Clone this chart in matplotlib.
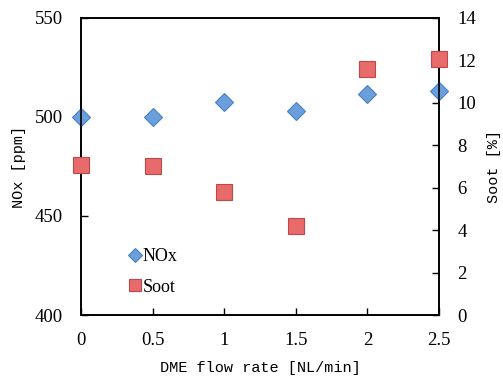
import matplotlib
matplotlib.use('Agg')
import matplotlib.pyplot as plt

flow_rate = [0, 0.5, 1, 1.5, 2, 2.5]
nox = [500, 500, 507.7, 502.9, 511.8, 513.1]
soot = [7.07, 7.0, 5.79, 4.2, 11.59, 12.07]

serif = ['Liberation Serif', 'DejaVu Serif']
label_font = ['Liberation Mono', 'DejaVu Sans Mono']

fig = plt.figure(figsize=(5.03, 3.8), dpi=100)
ax = fig.add_axes([0.161, 0.171, 0.712, 0.782])
ax2 = ax.twinx()

h1, = ax.plot(flow_rate, nox, linestyle='none', marker='D', markersize=9,
              markerfacecolor='#6a9fdc', markeredgecolor='#4a7fc0', markeredgewidth=0.8,
              clip_on=False, zorder=3, label='NOx')
h2, = ax2.plot(flow_rate, soot, linestyle='none', marker='s', markersize=12,
               markerfacecolor='#e86a6a', markeredgecolor='#c04848', markeredgewidth=0.8,
               clip_on=False, zorder=3, label='Soot')

ax.set_xlim(0, 2.5)
ax.set_ylim(400, 550)
ax2.set_ylim(0, 14)
ax.set_xticks([0, 0.5, 1, 1.5, 2, 2.5])
ax.set_xticklabels(['0', '0.5', '1', '1.5', '2', '2.5'])
ax.set_yticks([400, 450, 500, 550])
ax2.set_yticks(range(0, 15, 2))

for a in (ax, ax2):
    a.tick_params(direction='in', length=5, width=1, labelsize=13.5, pad=13)
    a.tick_params(axis='x', pad=12)
    for lab in a.get_xticklabels() + a.get_yticklabels():
        lab.set_family(serif)
    for s in a.spines.values():
        s.set_linewidth(1.2)

ax.set_xlabel('DME flow rate [NL/min]', family=label_font, fontsize=11, labelpad=9)
ax.set_ylabel('NOx [ppm]', family=label_font, fontsize=11, labelpad=6)
ax2.set_ylabel('Soot [%]', family=label_font, fontsize=11, labelpad=8)

leg = ax.legend(handles=[h1, h2], loc='lower left', bbox_to_anchor=(0.09, 0.01),
                frameon=False, handlelength=0.6, handletextpad=0.15, labelspacing=0.75,
                prop={'family': serif, 'size': 13}, markerscale=0.75)

fig.savefig('out.png', dpi=100)
